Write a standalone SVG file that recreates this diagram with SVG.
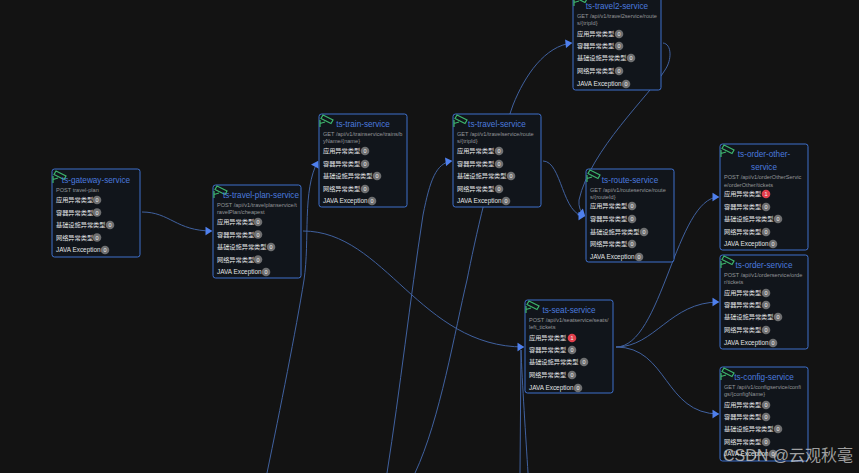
<svg xmlns="http://www.w3.org/2000/svg" width="859" height="473" viewBox="0 0 859 473">
<style>
.box{fill:#11151b;stroke:#3f70cc;stroke-width:1}
.title{font:8.2px "Liberation Sans","Noto Sans CJK SC",sans-serif;fill:#4a7ade;text-anchor:middle}
.api{font:5.6px "Liberation Sans",sans-serif;fill:#94969a}
.row{font:6.2px "Noto Sans CJK SC","Liberation Sans",sans-serif;fill:#e2e3e5}
.java{font:6.4px "Liberation Sans",sans-serif;fill:#e2e3e5}
.bg{fill:#6e6f71;r:4.300px}
.red{fill:#e23f4c;r:4.300px}
.num{font:5.500px "Liberation Sans",sans-serif;fill:#f0f0f0;text-anchor:middle}
.cam{fill:none;stroke:#3db56c;stroke-width:1.200}
.link{fill:none;stroke:#40619f;stroke-width:1;marker-end:url(#arrow)}
.plain{fill:none;stroke:#40619f;stroke-width:1}
.mark{font:16px "Liberation Sans","Noto Sans CJK SC",sans-serif;fill:#d8d8d8;fill-opacity:.72}
</style>
<defs>
<marker id="arrow" markerUnits="userSpaceOnUse" markerWidth="9" markerHeight="10" refX="7" refY="5" orient="auto"><path d="M.5 1Q0 .5 1 1L6.500 4.500Q7 5 6.500 5.500L1 9Q0 9.500 .5 9Z" fill="#4f80ee"/></marker>
<g id="icon" class="cam"><path d="M4 1L14 6L12 9.500L2 4.500Z"/><path d="M1 13V6M1 9.500L6 8"/></g>
</defs>
<rect width="859" height="473" fill="#131313"/>
<g id="connectors">
<path class="link" d="M142 212C170 212 176 231 212 231"/>
<path class="link" d="M303 231C385 231 420 347 524 347"/>
<path class="link" d="M267 473C280 410 296 330 304 280C310 240 302 190 318 161"/>
<path class="link" d="M387 473C400 390 410 300 423 215C430 180 436 163 452 161"/>
<path class="link" d="M415 473C440 420 455 330 467 280C475 240 490 170 513 105C525 75 545 46 572 43"/>
<path class="link" d="M543 161C562 161 562 216 585 216"/>
<path class="link" d="M663 43C672 44 672 60 665 70C650 95 590 150 579 200Q578 210 585 216"/>
<path class="link" d="M616 347C662 347 676 197 719 197"/>
<path class="link" d="M616 347C655 347 670 302 719 302"/>
<path class="link" d="M616 347C668 347 664 414 719 414"/>
<path class="plain" d="M520 473L521 350"/>
<path class="plain" d="M528 473C526 440 522 380 521 350"/>
</g>
<g id="ts-gateway-service" transform="translate(52,169)">
<rect class="box" width="88" height="88" rx="2.500"/><use href="#icon" y="1"/>
<text class="title" x="44" y="14">ts-gateway-service</text>
<text class="api" x="4" y="23">POST travel-plan</text>
<text class="row" x="4" y="33">应用异常类型</text><circle class="bg" cx="45" cy="31"/><text class="num" x="45" y="33">0</text>
<text class="row" x="4" y="45.500">容器异常类型</text><circle class="bg" cx="45" cy="43.500"/><text class="num" x="45" y="45.500">0</text>
<text class="row" x="4" y="58">基础设施异常类型</text><circle class="bg" cx="58" cy="56"/><text class="num" x="58" y="58">0</text>
<text class="row" x="4" y="70.500">网络异常类型</text><circle class="bg" cx="45" cy="68.500"/><text class="num" x="45" y="70.500">0</text>
<text class="java" x="4" y="83">JAVA Exception</text><circle class="bg" cx="53" cy="81"/><text class="num" x="53" y="83">0</text>
</g>
<g id="ts-travel-plan-service" transform="translate(213,185)">
<rect class="box" width="88" height="93" rx="2.500"/><use href="#icon"/>
<text class="title" x="48" y="13">ts-travel-plan-service</text>
<text class="api" x="4" y="22">POST /api/v1/travelplanservice/t</text><text class="api" x="4" y="29">ravelPlan/cheapest</text>
<text class="row" x="4" y="39">应用异常类型</text><circle class="bg" cx="45" cy="37"/><text class="num" x="45" y="39">0</text>
<text class="row" x="4" y="51.500">容器异常类型</text><circle class="bg" cx="45" cy="49.500"/><text class="num" x="45" y="51.500">0</text>
<text class="row" x="4" y="64">基础设施异常类型</text><circle class="bg" cx="58" cy="62"/><text class="num" x="58" y="64">0</text>
<text class="row" x="4" y="76.500">网络异常类型</text><circle class="bg" cx="45" cy="74.500"/><text class="num" x="45" y="76.500">0</text>
<text class="java" x="4" y="89">JAVA Exception</text><circle class="bg" cx="53" cy="87"/><text class="num" x="53" y="89">0</text>
</g>
<g id="ts-train-service" transform="translate(319,114)">
<rect class="box" width="88" height="93" rx="2.500"/><use href="#icon"/>
<text class="title" x="44" y="13">ts-train-service</text>
<text class="api" x="4" y="22">GET /api/v1/trainservice/trains/b</text><text class="api" x="4" y="29">yName/{name}</text>
<text class="row" x="4" y="39">应用异常类型</text><circle class="bg" cx="46" cy="37"/><text class="num" x="46" y="39">0</text>
<text class="row" x="4" y="52">容器异常类型</text><circle class="bg" cx="46" cy="50"/><text class="num" x="46" y="52">0</text>
<text class="row" x="4" y="64">基础设施异常类型</text><circle class="bg" cx="58" cy="62"/><text class="num" x="58" y="64">0</text>
<text class="row" x="4" y="77">网络异常类型</text><circle class="bg" cx="46" cy="75"/><text class="num" x="46" y="77">0</text>
<text class="java" x="4" y="89">JAVA Exception</text><circle class="bg" cx="53" cy="87"/><text class="num" x="53" y="89">0</text>
</g>
<g id="ts-travel-service" transform="translate(453,114)">
<rect class="box" width="88" height="93" rx="2.500"/><use href="#icon"/>
<text class="title" x="44" y="13">ts-travel-service</text>
<text class="api" x="4" y="22">GET /api/v1/travelservice/route</text><text class="api" x="4" y="29">s/{tripId}</text>
<text class="row" x="4" y="39">应用异常类型</text><circle class="bg" cx="46" cy="37"/><text class="num" x="46" y="39">0</text>
<text class="row" x="4" y="52">容器异常类型</text><circle class="bg" cx="46" cy="50"/><text class="num" x="46" y="52">0</text>
<text class="row" x="4" y="64">基础设施异常类型</text><circle class="bg" cx="58" cy="62"/><text class="num" x="58" y="64">0</text>
<text class="row" x="4" y="77">网络异常类型</text><circle class="bg" cx="46" cy="75"/><text class="num" x="46" y="77">0</text>
<text class="java" x="4" y="89">JAVA Exception</text><circle class="bg" cx="53" cy="87"/><text class="num" x="53" y="89">0</text>
</g>
<g id="ts-travel2-service" transform="translate(573,-4)">
<rect class="box" width="88" height="94" rx="2.500"/><use href="#icon" y="-3"/>
<text class="title" x="44" y="13">ts-travel2-service</text>
<text class="api" x="4" y="22">GET /api/v1/travel2service/route</text><text class="api" x="4" y="29">s/{tripId}</text>
<text class="row" x="4" y="40">应用异常类型</text><circle class="bg" cx="46" cy="38"/><text class="num" x="46" y="40">0</text>
<text class="row" x="4" y="52">容器异常类型</text><circle class="bg" cx="46" cy="50"/><text class="num" x="46" y="52">0</text>
<text class="row" x="4" y="64">基础设施异常类型</text><circle class="bg" cx="58" cy="62"/><text class="num" x="58" y="64">0</text>
<text class="row" x="4" y="77">网络异常类型</text><circle class="bg" cx="46" cy="75"/><text class="num" x="46" y="77">0</text>
<text class="java" x="4" y="90">JAVA Exception</text><circle class="bg" cx="53" cy="88"/><text class="num" x="53" y="90">0</text>
</g>
<g id="ts-route-service" transform="translate(586,169)">
<rect class="box" width="88" height="93" rx="2.500"/><use href="#icon"/>
<text class="title" x="44" y="14">ts-route-service</text>
<text class="api" x="4" y="23">GET /api/v1/routeservice/route</text><text class="api" x="4" y="30">s/{routeId}</text>
<text class="row" x="4" y="39">应用异常类型</text><circle class="bg" cx="46" cy="37"/><text class="num" x="46" y="39">0</text>
<text class="row" x="4" y="52">容器异常类型</text><circle class="bg" cx="46" cy="50"/><text class="num" x="46" y="52">0</text>
<text class="row" x="4" y="65">基础设施异常类型</text><circle class="bg" cx="58" cy="63"/><text class="num" x="58" y="65">0</text>
<text class="row" x="4" y="77">网络异常类型</text><circle class="bg" cx="46" cy="75"/><text class="num" x="46" y="77">0</text>
<text class="java" x="4" y="90">JAVA Exception</text><circle class="bg" cx="53" cy="88"/><text class="num" x="53" y="90">0</text>
</g>
<g id="ts-order-other-service" transform="translate(720,144)">
<rect class="box" width="88" height="106" rx="2.500"/><use href="#icon"/>
<text class="title" x="44" y="13">ts-order-other-</text><text class="title" x="44" y="26">service</text>
<text class="api" x="4" y="35">POST /api/v1/orderOtherServic</text><text class="api" x="4" y="43">e/orderOther/tickets</text>
<text class="row" x="4" y="52">应用异常类型</text><circle class="red" cx="46" cy="50"/><text class="num" x="46" y="52">1</text>
<text class="row" x="4" y="65">容器异常类型</text><circle class="bg" cx="46" cy="63"/><text class="num" x="46" y="65">0</text>
<text class="row" x="4" y="77">基础设施异常类型</text><circle class="bg" cx="58" cy="75"/><text class="num" x="58" y="77">0</text>
<text class="row" x="4" y="90">网络异常类型</text><circle class="bg" cx="46" cy="88"/><text class="num" x="46" y="90">0</text>
<text class="java" x="4" y="102">JAVA Exception</text><circle class="bg" cx="53" cy="100"/><text class="num" x="53" y="102">0</text>
</g>
<g id="ts-order-service" transform="translate(720,255)">
<rect class="box" width="88" height="94" rx="2.500"/><use href="#icon"/>
<text class="title" x="44" y="13">ts-order-service</text>
<text class="api" x="4" y="22">POST /api/v1/orderservice/orde</text><text class="api" x="4" y="29">r/tickets</text>
<text class="row" x="4" y="40">应用异常类型</text><circle class="bg" cx="46" cy="38"/><text class="num" x="46" y="40">0</text>
<text class="row" x="4" y="52">容器异常类型</text><circle class="bg" cx="46" cy="50"/><text class="num" x="46" y="52">0</text>
<text class="row" x="4" y="64">基础设施异常类型</text><circle class="bg" cx="58" cy="62"/><text class="num" x="58" y="64">0</text>
<text class="row" x="4" y="77">网络异常类型</text><circle class="bg" cx="46" cy="75"/><text class="num" x="46" y="77">0</text>
<text class="java" x="4" y="90">JAVA Exception</text><circle class="bg" cx="53" cy="88"/><text class="num" x="53" y="90">0</text>
</g>
<g id="ts-config-service" transform="translate(720,367)">
<rect class="box" width="88" height="94" rx="2.500"/><use href="#icon"/>
<text class="title" x="44" y="13">ts-config-service</text>
<text class="api" x="4" y="22">GET /api/v1/configservice/confi</text><text class="api" x="4" y="29">gs/{configName}</text>
<text class="row" x="4" y="40">应用异常类型</text><circle class="bg" cx="46" cy="38"/><text class="num" x="46" y="40">0</text>
<text class="row" x="4" y="52">容器异常类型</text><circle class="bg" cx="46" cy="50"/><text class="num" x="46" y="52">0</text>
<text class="row" x="4" y="64">基础设施异常类型</text><circle class="bg" cx="58" cy="62"/><text class="num" x="58" y="64">0</text>
<text class="row" x="4" y="77">网络异常类型</text><circle class="bg" cx="46" cy="75"/><text class="num" x="46" y="77">0</text>
<text class="java" x="4" y="89">JAVA Exception</text><circle class="bg" cx="53" cy="87"/><text class="num" x="53" y="89">0</text>
</g>
<g id="ts-seat-service" transform="translate(525,300)">
<rect class="box" width="88" height="93" rx="2.500"/><use href="#icon"/>
<text class="title" x="44" y="13">ts-seat-service</text>
<text class="api" x="4" y="22">POST /api/v1/seatservice/seats/</text><text class="api" x="4" y="29">left_tickets</text>
<text class="row" x="4" y="40">应用异常类型</text><circle class="red" cx="47" cy="38"/><text class="num" x="47" y="40">1</text>
<text class="row" x="4" y="52">容器异常类型</text><circle class="bg" cx="47" cy="50"/><text class="num" x="47" y="52">0</text>
<text class="row" x="4" y="64">基础设施异常类型</text><circle class="bg" cx="59" cy="62"/><text class="num" x="59" y="64">0</text>
<text class="row" x="4" y="77">网络异常类型</text><circle class="bg" cx="47" cy="75"/><text class="num" x="47" y="77">0</text>
<text class="java" x="4" y="90">JAVA Exception</text><circle class="bg" cx="53" cy="88"/><text class="num" x="53" y="90">0</text>
</g>
<text class="mark" x="723" y="461">CSDN @云观秋毫</text>
</svg>
